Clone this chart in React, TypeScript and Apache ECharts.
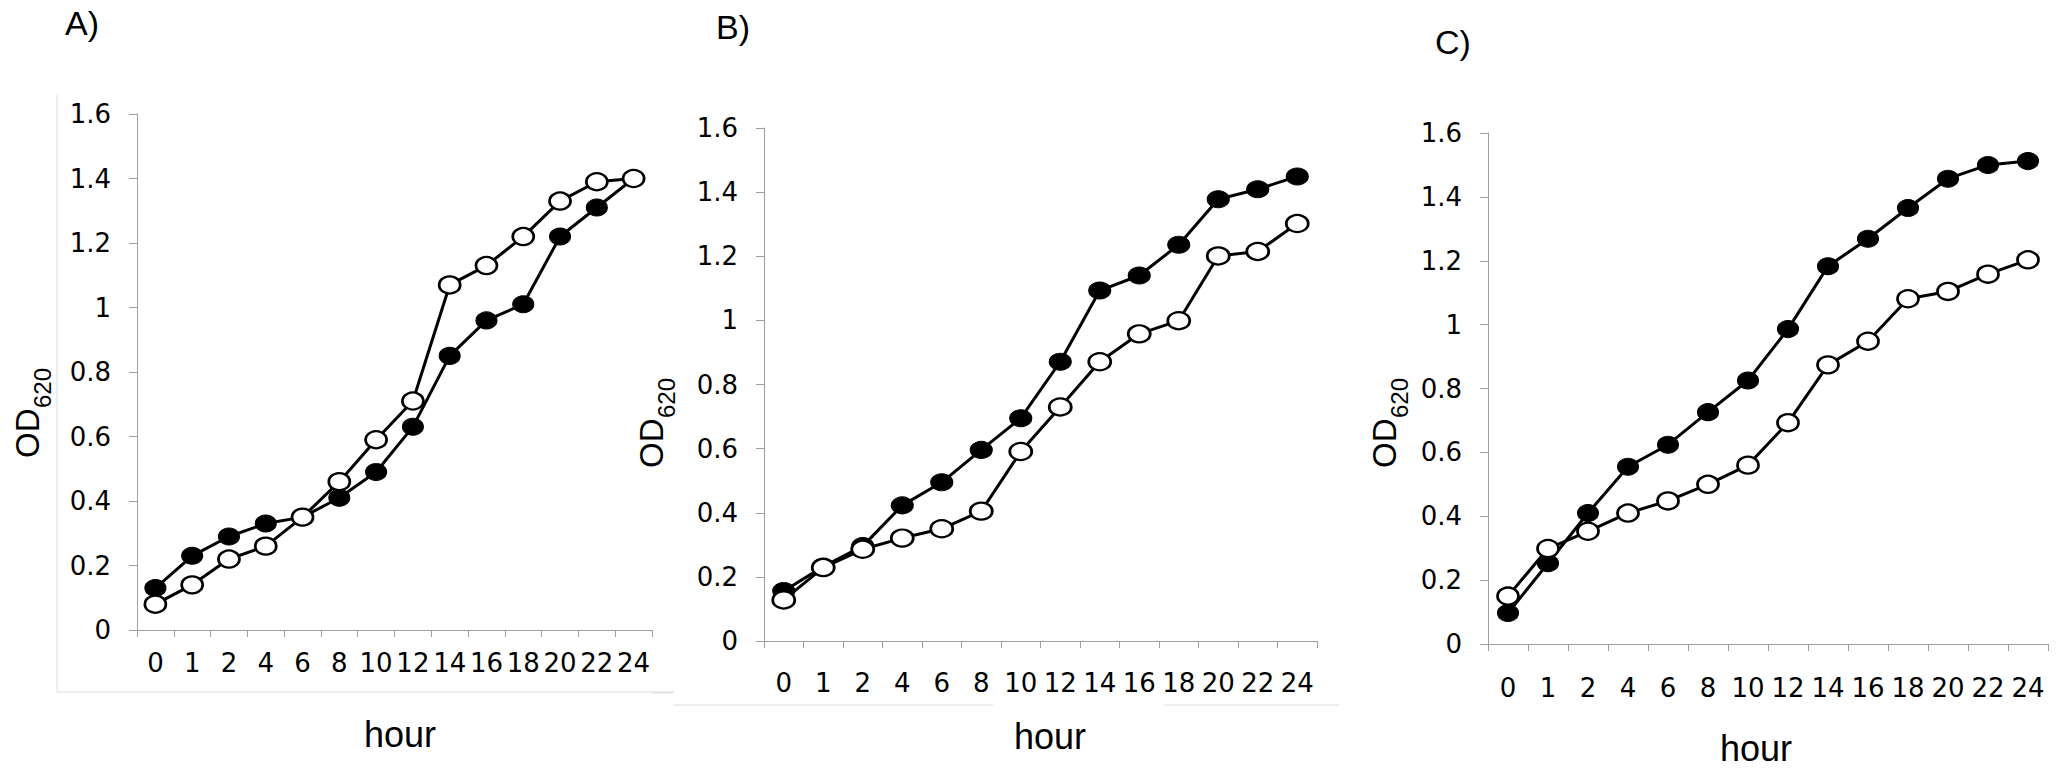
import React, { useEffect, useRef } from "react";
import * as echarts from "echarts";

// ---- data ----
const hours = ["0", "1", "2", "4", "6", "8", "10", "12", "14", "16", "18", "20", "22", "24"];

const filledA = [0.13, 0.23, 0.29, 0.33, 0.35, 0.41, 0.49, 0.63, 0.85, 0.96, 1.01, 1.22, 1.31, 1.4];
const openA = [0.08, 0.14, 0.22, 0.26, 0.35, 0.46, 0.59, 0.71, 1.07, 1.13, 1.22, 1.33, 1.39, 1.4];

const filledB = [0.156, 0.232, 0.296, 0.423, 0.495, 0.596, 0.695, 0.871, 1.093, 1.14, 1.236, 1.378, 1.409, 1.449];
const openB = [0.128, 0.229, 0.286, 0.321, 0.35, 0.405, 0.591, 0.73, 0.871, 0.958, 0.999, 1.201, 1.215, 1.302];

const filledC = [0.097, 0.253, 0.41, 0.555, 0.624, 0.726, 0.825, 0.986, 1.183, 1.269, 1.365, 1.457, 1.5, 1.512];
const openC = [0.15, 0.299, 0.353, 0.41, 0.448, 0.5, 0.56, 0.693, 0.874, 0.948, 1.081, 1.104, 1.158, 1.203];

const panelLabels = ["A)", "B)", "C)"];
const xTitle = "hour";
const yTitleMain = "OD";
const yTitleSub = "620";
const yMin = 0;
const yMax = 1.6;
const yStep = 0.2;

// ---- layout ----
const grids = [
  { left: 137, top: 114, width: 515, height: 516 },
  { left: 764, top: 128, width: 553, height: 513 },
  { left: 1488, top: 133, width: 560, height: 511 },
];
const xLabelMargin = [20, 29, 31];
const panelLabelPos = [
  [82, 23],
  [733, 27],
  [1453, 42],
];
const hourPos = [
  [400, 734],
  [1050, 736],
  [1756, 748],
];
const odPos = [
  [27, 458],
  [651, 468],
  [1384, 468],
];
const markerSize = [
  [21, 17],
  [22, 17],
  [21, 17],
];

const AXIS_GRAY = "#a0a0a0";
const TICK_FONT = "DejaVu Sans";
const TITLE_FONT = "Liberation Sans";

export default function App() {
  const ref = useRef<HTMLDivElement>(null);

  useEffect(() => {
    if (!ref.current) return;
    const chart = echarts.init(ref.current, undefined, { renderer: "svg" });
    const filled = [filledA, filledB, filledC];
    const open = [openA, openB, openC];

    const xAxis = grids.map((_, i) => ({
      type: "category",
      gridIndex: i,
      data: hours,
      boundaryGap: true,
      axisLine: { show: true, lineStyle: { color: AXIS_GRAY, width: 1 } },
      axisTick: { show: true, length: 7, lineStyle: { color: AXIS_GRAY } },
      axisLabel: {
        interval: 0,
        hideOverlap: false,
        margin: xLabelMargin[i],
        color: "#000",
        fontSize: 26,
        fontFamily: TICK_FONT,
      },
      splitLine: { show: false },
    }));

    const yAxis = grids.map((_, i) => ({
      type: "value",
      gridIndex: i,
      min: yMin,
      max: yMax,
      interval: yStep,
      axisLine: { show: true, lineStyle: { color: AXIS_GRAY, width: 1 } },
      axisTick: { show: true, length: 8, lineStyle: { color: AXIS_GRAY } },
      axisLabel: {
        margin: 26,
        color: "#000",
        fontSize: 26,
        fontFamily: TICK_FONT,
      },
      splitLine: { show: false },
    }));

    const series: any[] = [];
    grids.forEach((_, i) => {
      series.push({
        type: "line",
        xAxisIndex: i,
        yAxisIndex: i,
        data: filled[i],
        z: 2,
        symbol: "circle",
        symbolSize: markerSize[i],
        showAllSymbol: true,
        lineStyle: { color: "#000", width: 3 },
        itemStyle: { color: "#000", borderColor: "#000", borderWidth: 1 },
      });
      series.push({
        type: "line",
        xAxisIndex: i,
        yAxisIndex: i,
        data: open[i],
        z: 3,
        symbol: "circle",
        symbolSize: markerSize[i],
        showAllSymbol: true,
        lineStyle: { color: "#000", width: 3 },
        itemStyle: { color: "#fff", borderColor: "#000", borderWidth: 2.5 },
      });
    });

    const graphic: any[] = [];
    const faint = "#dcdcdc";
    const faintLines = [
      [57, 95, 57, 692],
      [57, 692, 674, 692],
      [652, 693, 673, 693],
      [673, 705, 993, 705],
      [1164, 705, 1339, 705],
    ];
    faintLines.forEach(([x1, y1, x2, y2]) =>
      graphic.push({
        type: "line",
        shape: { x1, y1, x2, y2 },
        style: { stroke: faint, lineWidth: 1 },
        silent: true,
      })
    );

    grids.forEach((_, i) => {
      graphic.push({
        type: "text",
        x: panelLabelPos[i][0],
        y: panelLabelPos[i][1],
        style: {
          text: panelLabels[i],
          fill: "#000",
          fontSize: 34,
          fontFamily: TITLE_FONT,
          align: "center",
          verticalAlign: "middle",
          textAlign: "center",
          textVerticalAlign: "middle",
        },
      });
      graphic.push({
        type: "text",
        x: hourPos[i][0],
        y: hourPos[i][1],
        style: {
          text: xTitle,
          fill: "#000",
          fontSize: 36,
          fontFamily: TITLE_FONT,
          align: "center",
          verticalAlign: "middle",
          textAlign: "center",
          textVerticalAlign: "middle",
        },
      });
      graphic.push({
        type: "group",
        x: odPos[i][0],
        y: odPos[i][1],
        rotation: Math.PI / 2,
        children: [
          {
            type: "text",
            x: 0,
            y: 0,
            style: {
              text: yTitleMain,
              fill: "#000",
              fontSize: 33,
              fontFamily: TITLE_FONT,
              align: "left",
              verticalAlign: "middle",
              textAlign: "left",
              textVerticalAlign: "middle",
            },
          },
          {
            type: "text",
            x: 50,
            y: 15,
            style: {
              text: yTitleSub,
              fill: "#000",
              fontSize: 24,
              fontFamily: TITLE_FONT,
              align: "left",
              verticalAlign: "middle",
              textAlign: "left",
              textVerticalAlign: "middle",
            },
          },
        ],
      });
    });

    chart.setOption({
      animation: false,
      backgroundColor: "#fff",
      textStyle: { fontFamily: TICK_FONT },
      grid: grids.map((g) => ({ ...g, containLabel: false })),
      xAxis,
      yAxis,
      series,
      graphic,
    });

    return () => chart.dispose();
  }, []);

  return (
    <div
      ref={ref}
      style={{ position: "absolute", left: 0, top: 0, width: 2069, height: 768, background: "#fff" }}
    />
  );
}
